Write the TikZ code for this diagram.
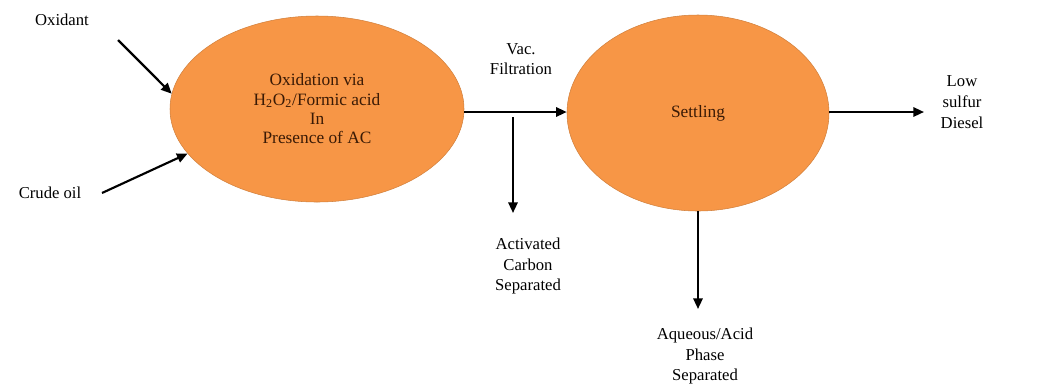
\documentclass[tikz,border=0pt]{standalone}
\usepackage{fontspec}
\setmainfont{Liberation Serif}
\usetikzlibrary{arrows.meta,shapes.geometric}
\definecolor{blobfill}{HTML}{F79646}
\definecolor{blobtext}{HTML}{3A1A05}
\begin{document}
\begin{tikzpicture}[x=0.75pt,y=-0.75pt,
  blob/.style={ellipse,fill=blobfill,draw=blobfill!85!black,line width=0.4pt,inner sep=0pt,align=center,text=blobtext,font=\fontsize{13}{14.5}\selectfont},
  lbl/.style={align=center,inner sep=0pt,font=\fontsize{12.5}{15.5}\selectfont},
  flow/.style={line width=1.6pt,-{Triangle[length=8pt,width=7pt]}}]
\useasboundingbox (0,0) rectangle (1057,387);
\node[blob,minimum width=294*0.75pt,minimum height=186*0.75pt] (e1) at (317,109)
  {Oxidation via\\H\textsubscript{2}O\textsubscript{2}/Formic acid\\In\\Presence of AC};
\node[blob,minimum width=262*0.75pt,minimum height=196*0.75pt] (e2) at (698,113) {Settling};
\node[lbl] (ox) at (62,20) {Oxidant};
\node[lbl] (crude) at (50,193) {Crude oil};
\node[lbl] (vac) at (521,59) {Vac.\\Filtration};
\node[lbl] (ac) at (528,266) {Activated\\Carbon\\Separated};
\node[lbl] (aq) at (705,356) {Aqueous/Acid\\Phase\\Separated};
\node[lbl] (ls) at (962,102) {Low\\sulfur\\Diesel};
\coordinate (oxs) at (118,40);
\coordinate (crs) at (102,193);
\coordinate (br) at (513,117);
\coordinate (brend) at (513,213);
\coordinate (aqend) at (698,309);
\coordinate (lsend) at (924,112);
\draw[flow] (oxs) -- (e1.174);
\draw[flow] (crs) -- (e1.199);
\draw[flow] (e1.east |- 0,112) -- (e2.west |- 0,112);
\draw[flow] (br) -- (brend);
\draw[flow] (e2.south) -- (aqend);
\draw[flow] (e2.east |- 0,112) -- (lsend);
\end{tikzpicture}
\end{document}
